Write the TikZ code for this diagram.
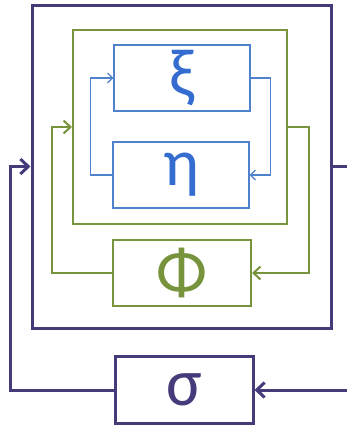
\documentclass[tikz,border=0pt]{standalone}
\usepackage{fontspec}
\setmainfont{Carlito}
\usetikzlibrary{arrows.meta}
\definecolor{darkpurple}{RGB}{70,58,122}
\definecolor{olive}{RGB}{119,147,60}
\definecolor{lineblue}{RGB}{79,129,205}
\definecolor{textblue}{RGB}{52,108,208}

\begin{document}
\begin{tikzpicture}[x=1pt, y=-1pt,
main box/.style={rectangle,draw,minimum width=#1,minimum height=66pt,inner sep=0pt,font=\fontsize{67}{67}\selectfont},
purple/.style={draw=darkpurple,line width=3pt,text=darkpurple,>={Straight Barb[length=8pt,width=15pt]}},
green/.style={draw=olive,line width=2pt,text=olive,>={Straight Barb[length=7pt,width=13pt]}},
blue/.style={draw=lineblue,line width=1.2pt,text=textblue,>={Straight Barb[length=5pt,width=10pt]}}]
\useasboundingbox (0,0) rectangle (346,426);
\node[main box=299pt, purple, minimum height=323pt](outer) at (181.5,166.5){};
\node[main box=214pt, green, minimum height=194pt](inner) at (180,127){};
\node[main box=136pt, blue](xi) at (182,78){ξ};
\node[main box=136pt, blue](eta) at (181,175){η};
\node[main box=138pt, green](phi) at (182,273){Φ};
\node[main box=138pt, purple, minimum height=67pt](sigma) at (184,390){σ};
\coordinate (out) at (350,166.5);
\coordinate (in) at (350,390);
\draw[blue,->](eta.west)--++(-22,0)|-(xi.west);
\draw[blue,->](xi.east)--++(20,0)|-(eta.east);
\draw[green,->](inner.east)--++(21,0)|-(phi.east);
\draw[green,->](phi.west)--++(-60,0)|-(inner.west);
\draw[purple](outer.east)--(out);
\draw[purple,->](in)--(sigma.east);
\draw[purple,->](sigma.west)--++(-103,0)|-(outer.west);
\end{tikzpicture}
\end{document}
